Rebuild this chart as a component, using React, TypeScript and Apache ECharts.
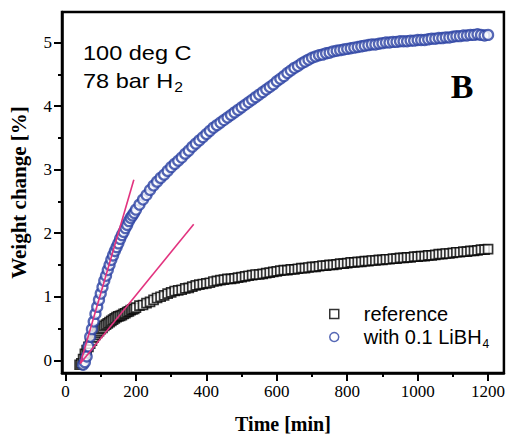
import React, { useEffect, useRef } from 'react';
import * as echarts from 'echarts';

// Time [min] sampling of both runs
const TIME = [
  40, 45, 50, 55, 60, 65, 70, 75, 80, 85, 90, 95, 100, 105, 110, 115, 120, 125, 130, 135,
  140, 145, 150, 155, 160, 165, 170, 175, 180, 185, 190, 195, 200,
  210, 220, 230, 240, 250, 260, 270, 280, 290, 300, 310, 320, 330, 340, 350, 360, 370, 380,
  390, 400, 410, 420, 430, 440, 450, 460, 470, 480, 490, 500, 510, 520, 530, 540, 550, 560,
  570, 580, 590, 600, 610, 620, 630, 640, 650, 660, 670, 680, 690, 700, 710, 720, 730, 740,
  750, 760, 770, 780, 790, 800, 810, 820, 830, 840, 850, 860, 870, 880, 890, 900, 910, 920,
  930, 940, 950, 960, 970, 980, 990, 1000, 1010, 1020, 1030, 1040, 1050, 1060, 1070, 1080,
  1090, 1100, 1110, 1120, 1130, 1140, 1150, 1160, 1170, 1180, 1190, 1200,
];

// Weight change [%] – reference sample (squares)
const REF = [
  -0.07, -0.05, 0.02, 0.10, 0.16, 0.21, 0.26, 0.31, 0.36, 0.40, 0.43, 0.46, 0.49, 0.51, 0.54,
  0.56, 0.58, 0.60, 0.62, 0.64, 0.66, 0.68, 0.69, 0.70, 0.71, 0.73, 0.74, 0.76, 0.77, 0.79,
  0.80, 0.81, 0.83,
  0.86, 0.87, 0.90, 0.92, 0.95, 0.98, 1.00, 1.02, 1.05, 1.07,
  1.09, 1.10, 1.11, 1.13, 1.14, 1.16, 1.18, 1.19, 1.20, 1.21,
  1.22, 1.24, 1.25, 1.26, 1.27, 1.28, 1.28, 1.29, 1.30, 1.31,
  1.32, 1.33, 1.34, 1.35, 1.35, 1.36, 1.37, 1.38, 1.39, 1.40,
  1.41, 1.42, 1.42, 1.43, 1.43, 1.44, 1.45, 1.45, 1.46, 1.47,
  1.47, 1.48, 1.49, 1.49, 1.50, 1.50, 1.51, 1.52, 1.52, 1.53,
  1.54, 1.54, 1.55, 1.55, 1.56, 1.56, 1.57, 1.57, 1.58, 1.58,
  1.59, 1.59, 1.60, 1.60, 1.61, 1.61, 1.62, 1.62, 1.63, 1.63,
  1.64, 1.64, 1.65, 1.65, 1.66, 1.67, 1.67, 1.68, 1.68, 1.69,
  1.70, 1.70, 1.71, 1.71, 1.72, 1.72, 1.73, 1.74, 1.74, 1.75,
];

// Weight change [%] – with 0.1 LiBH4 (circles), starts at 50 min
const LIBH4_TIME = TIME.slice(2);
const LIBH4 = [
  -0.07, -0.03, 0.06, 0.22, 0.37, 0.49, 0.61, 0.73, 0.84, 0.95,
  1.05, 1.15, 1.25, 1.33, 1.42, 1.50, 1.58, 1.65, 1.72, 1.78,
  1.84, 1.91, 1.97, 2.02, 2.08, 2.13, 2.19, 2.24, 2.28, 2.32, 2.37,
  2.45, 2.53, 2.60, 2.68, 2.75, 2.81, 2.87, 2.92, 2.98, 3.04,
  3.09, 3.14, 3.19, 3.25, 3.30, 3.36, 3.41, 3.46, 3.51, 3.56,
  3.61, 3.66, 3.70, 3.74, 3.78, 3.82, 3.86, 3.90, 3.94, 3.98,
  4.02, 4.06, 4.10, 4.14, 4.18, 4.22, 4.26, 4.30, 4.34, 4.39,
  4.43, 4.47, 4.52, 4.56, 4.60, 4.63, 4.67, 4.70, 4.73, 4.76,
  4.78, 4.80, 4.81, 4.83, 4.84, 4.86, 4.87, 4.88, 4.89, 4.90,
  4.91, 4.92, 4.93, 4.94, 4.95, 4.96, 4.97, 4.97, 4.98, 4.99,
  5.00, 5.00, 5.01, 5.01, 5.02, 5.02, 5.02, 5.03, 5.03, 5.04,
  5.04, 5.04, 5.05, 5.06, 5.06, 5.07, 5.07, 5.08, 5.08, 5.09,
  5.10, 5.10, 5.11, 5.11, 5.12, 5.12, 5.13, 5.12, 5.11, 5.12,
];

// Initial-rate tangent lines (magenta)
const FIT_FAST = [[42, -0.05], [194, 2.84]];
const FIT_SLOW = [[42, -0.05], [364, 2.14]];

const X_TICKS = [0, 200, 400, 600, 800, 1000, 1200];
const X_MINOR = [100, 300, 500, 700, 900, 1100];
const Y_TICKS = [0, 1, 2, 3, 4, 5];
const Y_MINOR = [0.5, 1.5, 2.5, 3.5, 4.5];

const X_MIN = -10;
const X_MAX = 1245;
const Y_MIN = -0.2;
const Y_MAX = 5.48;

const SERIF = 'Liberation Serif';
const SANS = 'Liberation Sans';
const BLUE = '#2a41a3';
const MAGENTA = '#e2337f';

export default function App() {
  const ref = useRef<HTMLDivElement>(null);

  useEffect(() => {
    if (!ref.current) return;
    const chart = echarts.init(ref.current, undefined, { renderer: 'svg' });

    const tickLine = { color: '#000', width: 2 };
    const labelStyle = {
      color: '#000',
      fontFamily: SERIF,
      fontSize: 17,
      formatter: (v: number) => String(v),
    };
    const nameStyle = { color: '#000', fontFamily: SERIF, fontSize: 20, fontWeight: 'bold' as const };

    chart.setOption({
      animation: false,
      backgroundColor: '#fff',
      grid: {
        left: 60,
        top: 12,
        right: 2,
        bottom: 64,
        show: true,
        borderColor: '#000',
        borderWidth: 2.5,
        backgroundColor: 'transparent',
      },
      xAxis: [
        {
          type: 'value',
          min: X_MIN,
          max: X_MAX,
          position: 'bottom',
          axisLine: { show: true, onZero: false, lineStyle: { color: '#000', width: 2.5 } },
          axisTick: { show: true, inside: false, length: 8, lineStyle: tickLine, customValues: X_TICKS },
          axisLabel: { ...labelStyle, margin: 10, customValues: X_TICKS },
          splitLine: { show: false },
          name: 'Time [min]',
          nameLocation: 'middle',
          nameGap: 41,
          nameTextStyle: nameStyle,
        },
        {
          type: 'value',
          min: X_MIN,
          max: X_MAX,
          position: 'bottom',
          axisLine: { show: false, onZero: false },
          axisTick: { show: true, inside: false, length: 4, lineStyle: tickLine, customValues: X_MINOR },
          axisLabel: { show: false },
          splitLine: { show: false },
        },
      ],
      yAxis: [
        {
          type: 'value',
          min: Y_MIN,
          max: Y_MAX,
          position: 'left',
          axisLine: { show: true, onZero: false, lineStyle: { color: '#000', width: 2.5 } },
          axisTick: { show: true, inside: false, length: 8, lineStyle: tickLine, customValues: Y_TICKS },
          axisLabel: { ...labelStyle, margin: 10, customValues: Y_TICKS },
          splitLine: { show: false },
          name: 'Weight change [%]',
          nameLocation: 'middle',
          nameGap: 33,
          nameTextStyle: { ...nameStyle, fontSize: 21 },
        },
        {
          type: 'value',
          min: Y_MIN,
          max: Y_MAX,
          position: 'left',
          axisLine: { show: false, onZero: false },
          axisTick: { show: true, inside: false, length: 4, lineStyle: tickLine, customValues: Y_MINOR },
          axisLabel: { show: false },
          splitLine: { show: false },
        },
      ],
      legend: {
        orient: 'vertical',
        left: 324,
        top: 299,
        itemWidth: 9,
        itemHeight: 9,
        itemGap: 0,
        selectedMode: false,
        data: [
          { name: 'reference', icon: 'rect', itemStyle: { color: '#fff', borderColor: '#000', borderWidth: 1.5 } },
          { name: 'with 0.1 LiBH4', icon: 'circle', itemStyle: { color: '#fff', borderColor: BLUE, borderWidth: 1.5 } },
        ],
        formatter: (name: string) =>
          name === 'reference'
            ? '{sp|}{a|reference}'
            : '{sp|}{a|with 0.1 LiBH}{s|4}',
        textStyle: {
          color: '#000',
          fontFamily: SANS,
          fontSize: 20,
          rich: {
            sp: { width: 20 },
            a: { fontFamily: SANS, fontSize: 20, color: '#000', lineHeight: 20 },
            s: { fontFamily: SANS, fontSize: 12, color: '#000', lineHeight: 20, padding: [14, 0, 0, 1] },
          },
        },
      },
      graphic: [
        {
          type: 'text',
          x: 83,
          y: 53,
          scaleX: 1.12,
          style: {
            text: '100 deg C',
            fontFamily: SANS,
            fontSize: 21,
            fill: '#000',
            align: 'left',
            verticalAlign: 'middle',
          },
        },
        {
          type: 'text',
          x: 83,
          y: 81,
          scaleX: 1.12,
          style: {
            text: '{a|78 bar H}{s|2}',
            fill: '#000',
            align: 'left',
            verticalAlign: 'middle',
            rich: {
              a: { fontFamily: SANS, fontSize: 21, fill: '#000', lineHeight: 24 },
              s: { fontFamily: SANS, fontSize: 14, fill: '#000', lineHeight: 24, padding: [12, 0, 0, 1] },
            },
          },
        },
        {
          type: 'text',
          x: 462,
          y: 86,
          style: {
            text: 'B',
            fontFamily: SERIF,
            fontSize: 34,
            fontWeight: 'bold',
            fill: '#000',
            align: 'center',
            verticalAlign: 'middle',
          },
        },
      ],
      series: [
        {
          name: 'reference',
          type: 'scatter',
          xAxisIndex: 0,
          yAxisIndex: 0,
          symbol: 'rect',
          symbolSize: 9,
          itemStyle: { color: '#fff', borderColor: '#000', borderWidth: 1.7 },
          data: TIME.map((t, i) => [t, REF[i]]),
          z: 2,
        },
        {
          name: 'with 0.1 LiBH4',
          type: 'scatter',
          xAxisIndex: 0,
          yAxisIndex: 0,
          symbol: 'circle',
          symbolSize: 10,
          itemStyle: { color: '#fff', borderColor: BLUE, borderWidth: 2.3 },
          data: LIBH4_TIME.map((t, i) => [t, LIBH4[i]]),
          z: 3,
        },
        {
          name: 'fit fast',
          type: 'line',
          xAxisIndex: 0,
          yAxisIndex: 0,
          symbol: 'none',
          lineStyle: { color: MAGENTA, width: 1.6 },
          data: FIT_FAST,
          z: 4,
        },
        {
          name: 'fit slow',
          type: 'line',
          xAxisIndex: 0,
          yAxisIndex: 0,
          symbol: 'none',
          lineStyle: { color: MAGENTA, width: 1.6 },
          data: FIT_SLOW,
          z: 4,
        },
      ],
    });

    return () => chart.dispose();
  }, []);

  return (
    <div
      ref={ref}
      style={{ position: 'fixed', left: 0, top: 0, width: 508, height: 439, background: '#fff' }}
    />
  );
}
